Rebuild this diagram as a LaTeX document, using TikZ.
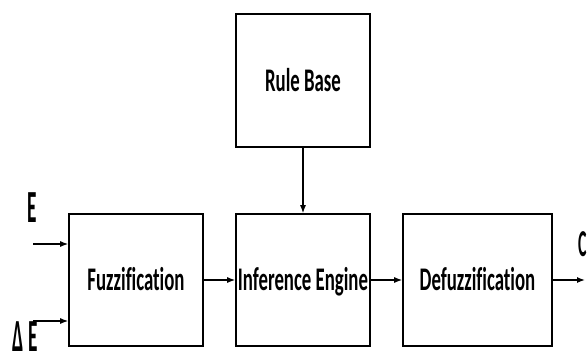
\documentclass[tikz,border=0pt]{standalone}
\usepackage{fontspec}
\newfontfamily\blockfont{Carlito}[FakeStretch=0.57, Ligatures=CommonOff]
\newfontfamily\sigfont{Carlito}[FakeStretch=0.42]
\usetikzlibrary{arrows.meta}
\tikzset{>={Latex[length=8pt,width=6pt]}}
\tikzset{
	block/.style={draw, line width=1.6pt, minimum width=134pt, minimum height=132pt, inner sep=0pt,
		font=\blockfont\bfseries\fontsize{33}{36}\selectfont, text height=21pt, text depth=0pt},
	sig/.style={inner sep=0pt, anchor=base, font=\sigfont\bfseries\fontsize{46}{50}\selectfont},
	wire/.style={line width=1.3pt, ->},
}

\begin{document}
\begin{tikzpicture}[x=1pt,y=-1pt]
	\useasboundingbox (0,0) rectangle (587,354);

	% bloki
	\node[block, minimum height=133pt] (rulebase) at (303,80.5) {Rule Base};
	\node[block] (fuzz) at (136,280) {Fuzzification};
	\node[block] (infer) at (303,280) {Inference Engine};
	\node[block, minimum width=149pt] (defuzz) at (477.5,280) {Defuzzification};

	% wejscia i wyjscie
	\node[sig] (lblE) at (32,222) {E};
	\node[sig] (lblDE) at (25,351) {Δ E};
	\node[sig, anchor=base west, font=\sigfont\bfseries\fontsize{38}{40}\selectfont] (lblC) at (578,256) {C};
	\coordinate (inE) at (33,244);
	\coordinate (inDE) at (33,321);
	\coordinate (outC) at (585,281);

	\draw[wire] (inE) -- (inE -| fuzz.west);
	\draw[wire] (inDE) -- (inDE -| fuzz.west);
	\draw[wire] (fuzz) -- (infer);
	\draw[wire] (infer) -- (defuzz);
	\draw[wire] (defuzz.east) -- (defuzz.east -| outC);
	\draw[wire] (rulebase) -- (infer);
\end{tikzpicture}
\end{document}
